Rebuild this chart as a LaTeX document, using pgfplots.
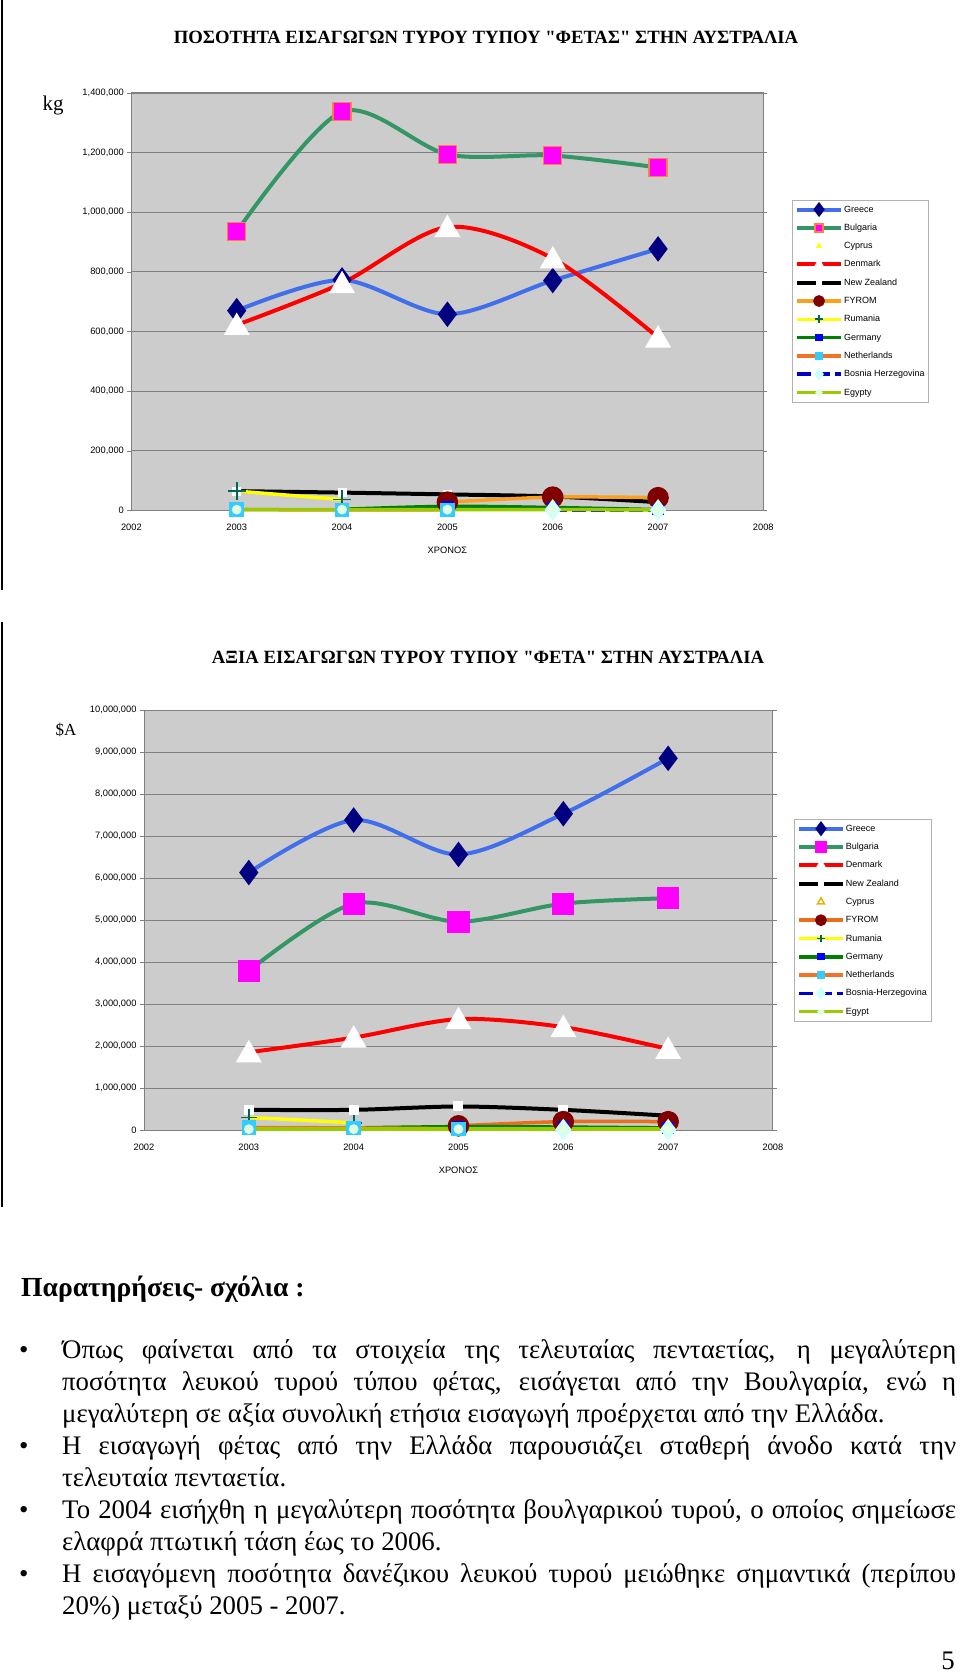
\documentclass[border=0pt]{standalone}
\usepackage{pgfplots}
\pgfplotsset{compat=1.18}
\usepackage{fontspec}
\setmainfont{Liberation Serif}
\newfontfamily\tnr{Liberation Serif}
\newfontfamily\arial{Liberation Sans}
\definecolor{plotgray}{RGB}{204,204,204}
\definecolor{gridgray}{RGB}{128,128,128}
\definecolor{grline}{RGB}{65,110,235}
\definecolor{grmark}{RGB}{0,0,128}
\definecolor{bgline}{RGB}{51,150,100}
\definecolor{bgmark}{RGB}{255,0,255}
\definecolor{bgedge}{RGB}{255,128,64}
\definecolor{dkline}{RGB}{255,0,0}
\definecolor{fyline}{RGB}{250,160,30}
\definecolor{fylinetwo}{RGB}{235,110,30}
\definecolor{fymark}{RGB}{128,0,0}
\definecolor{ruline}{RGB}{255,255,0}
\definecolor{rumark}{RGB}{0,102,90}
\definecolor{deline}{RGB}{0,128,0}
\definecolor{demark}{RGB}{0,0,255}
\definecolor{nlline}{RGB}{240,115,40}
\definecolor{nlmark}{RGB}{51,204,255}
\definecolor{bhline}{RGB}{0,0,204}
\definecolor{bhmark}{RGB}{204,255,255}
\definecolor{egline}{RGB}{153,204,0}
\definecolor{egmark}{RGB}{225,255,225}
\definecolor{cyfill}{RGB}{255,255,0}
\definecolor{cyedge}{RGB}{230,180,0}
\pgfplotsset{
  feta/.style={
    scale only axis,
    axis background/.style={fill=plotgray},
    xmin=2002, xmax=2008, xtick={2002,...,2008},
    xticklabel style={/pgf/number format/1000 sep=, yshift=-6pt},
    ymajorgrids, grid style={gridgray, line width=0.8pt},
    tick align=outside, major tick length=4pt,
    xtick style={draw=none},
    ytick style={gridgray},
    axis line style={gridgray, line width=1pt},
    tick label style={font=\arial\fontsize{9.3}{10}\selectfont},
    /pgf/number format/assume math mode=true,
    scaled ticks=false,
    yticklabel style={/pgf/number format/.cd, fixed, 1000 sep={,}},
    xlabel style={font=\arial\fontsize{9.3}{10}\selectfont, yshift=-10pt},
    clip=false,
    legend cell align=left,
    legend style={draw=gray!60, fill=white, font=\arial\fontsize{9}{10}\selectfont,
      anchor=north west, row sep=7.7pt, inner xsep=3pt, inner ysep=4pt,
      nodes={inner sep=1pt, text height=6.8pt, text depth=1.8pt},
      /tikz/every even column/.append style={column sep=0pt}},
    legend image code/.code={\draw[mark repeat=2,mark phase=2,#1] plot coordinates {(0pt,0pt) (22pt,0pt) (44pt,0pt)};},
    legend image post style={every mark/.append style={scale=0.45}},
    every axis plot/.append style={smooth, tension=0.5},
  }
}
\begin{document}
\begin{tikzpicture}
\useasboundingbox (0,0) rectangle (960pt,-1674pt);
\draw[line width=1.5pt] (2pt,0pt) -- (2pt,-590pt);
\draw[line width=1.5pt] (2pt,-622pt) -- (2pt,-1207pt);
\node[font=\tnr\bfseries\fontsize{18.7}{20}\selectfont] at (486pt,-37pt) {ΠΟΣΟΤΗΤΑ ΕΙΣΑΓΩΓΩΝ ΤΥΡΟΥ ΤΥΠΟΥ "ΦΕΤΑΣ" ΣΤΗΝ ΑΥΣΤΡΑΛΙΑ};
\node[font=\fontsize{21}{24}\selectfont] at (53pt,-105pt) {kg};
\begin{axis}[feta, at={(131.4pt,-510.5pt)}, anchor=south west,
  width=632pt, height=417.6pt,
  ymin=0, ymax=1400000, ytick={0,200000,...,1400000},
  xlabel={ΧΡΟΝΟΣ},
  legend style={at={(1.045,0.7435)}}]
\addplot[grline, line width=4pt, mark=diamond*, mark size=9.5pt, mark options={fill=grmark, draw=grmark}]
  coordinates {(2003,670000) (2004,773000) (2005,658000) (2006,771000) (2007,877000)};
\addlegendentry{Greece}
\addplot[bgline, line width=4pt, mark=square*, mark size=9pt, mark options={fill=bgmark, draw=bgedge, line width=1.5pt}]
  coordinates {(2003,935000) (2004,1337000) (2005,1194000) (2006,1190000) (2007,1150000)};
\addlegendentry{Bulgaria}
\addplot[only marks, mark=triangle*, mark size=7pt, mark options={fill=cyfill, draw=cyfill}]
  coordinates {(2003,4000)};
\addlegendentry{Cyprus}
\addplot[dkline, line width=4pt, mark=triangle*, mark size=11pt, mark options={fill=white, draw=white, yshift=-2.5pt}]
  coordinates {(2003,622000) (2004,762000) (2005,950000) (2006,845000) (2007,580000)};
\addlegendentry{Denmark}
\addplot[black, line width=4pt, mark=square*, mark size=2.5pt, mark options={fill=white, draw=white}]
  coordinates {(2003,65000) (2004,60000) (2005,54000) (2006,47000) (2007,28000)};
\addlegendentry{New Zealand}
\addplot[fyline, line width=3.5pt, mark=*, mark size=9pt, mark options={fill=fymark, draw=fymark}]
  coordinates {(2005,28000) (2006,45000) (2007,43000)};
\addlegendentry{FYROM}
\addplot[ruline, line width=3.5pt, mark=+, mark size=9pt, mark options={draw=rumark, line width=1.8pt}]
  coordinates {(2003,65000) (2004,37000)};
\addlegendentry{Rumania}
\addplot[deline, line width=3.5pt, mark=square*, mark size=4pt, mark options={fill=demark, draw=demark}]
  coordinates {(2004,4000) (2005,14000) (2006,10000) (2007,3000)};
\addlegendentry{Germany}
\addplot[nlline, line width=3.5pt, mark=square*, mark size=5.5pt, mark options={fill=nlmark, draw=nlmark}]
  coordinates {(2003,3000) (2004,2000) (2005,2000)};
\addlegendentry{Netherlands}
\addplot[bhline, line width=3.5pt, dash pattern=on 14pt off 5pt, mark=diamond*, mark size=8pt, mark options={fill=bhmark, draw=bhmark, solid}]
  coordinates {(2006,2000) (2007,2000)};
\addlegendentry{Bosnia Herzegovina}
\addplot[egline, line width=3.5pt, mark=*, mark size=3pt, mark options={fill=egmark, draw=egmark}]
  coordinates {(2003,3000) (2004,3000) (2005,3000) (2006,3000) (2007,2000)};
\addlegendentry{Egypty}
\end{axis}
\node[font=\tnr\bfseries\fontsize{18.7}{20}\selectfont] at (488pt,-657pt) {ΑΞΙΑ ΕΙΣΑΓΩΓΩΝ ΤΥΡΟΥ ΤΥΠΟΥ "ΦΕΤΑ" ΣΤΗΝ ΑΥΣΤΡΑΛΙΑ};
\node[font=\fontsize{17}{20}\selectfont] at (66pt,-730pt) {\$A};
\begin{axis}[feta, at={(144pt,-1130pt)}, anchor=south west,
  width=629pt, height=420pt,
  ymin=0, ymax=10000000, ytick={0,1000000,...,10000000},
  xlabel={ΧΡΟΝΟΣ},
  legend style={at={(1.033,0.740)}}]
\addplot[grline, line width=4pt, mark=diamond*, mark size=9.5pt, mark options={fill=grmark, draw=grmark}]
  coordinates {(2003,6130000) (2004,7380000) (2005,6560000) (2006,7530000) (2007,8850000)};
\addlegendentry{Greece}
\addplot[bgline, line width=4pt, mark=square*, mark size=9pt, mark options={fill=bgmark, draw=bgmark}]
  coordinates {(2003,3790000) (2004,5390000) (2005,4960000) (2006,5390000) (2007,5520000)};
\addlegendentry{Bulgaria}
\addplot[dkline, line width=4pt, mark=triangle*, mark size=11pt, mark options={fill=white, draw=white, yshift=-2.5pt}]
  coordinates {(2003,1850000) (2004,2200000) (2005,2640000) (2006,2450000) (2007,1930000)};
\addlegendentry{Denmark}
\addplot[black, line width=4pt, mark=square*, mark size=3pt, mark options={fill=white, draw=white}]
  coordinates {(2003,480000) (2004,480000) (2005,560000) (2006,480000) (2007,340000)};
\addlegendentry{New Zealand}
\addlegendimage{only marks, mark=triangle, mark size=9pt, mark options={draw=cyedge, line width=1.5pt}}
\addlegendentry{Cyprus}
\addplot[fylinetwo, line width=3.5pt, mark=*, mark size=9pt, mark options={fill=fymark, draw=fymark}]
  coordinates {(2005,100000) (2006,200000) (2007,200000)};
\addlegendentry{FYROM}
\addplot[ruline, line width=3.5pt, mark=+, mark size=8pt, mark options={draw=rumark, line width=1.8pt}]
  coordinates {(2003,300000) (2004,170000)};
\addlegendentry{Rumania}
\addplot[deline, line width=3.5pt, mark=square*, mark size=4pt, mark options={fill=demark, draw=demark}]
  coordinates {(2004,50000) (2005,80000) (2006,70000) (2007,50000)};
\addlegendentry{Germany}
\addplot[nlline, line width=3.5pt, mark=square*, mark size=5.5pt, mark options={fill=nlmark, draw=nlmark}]
  coordinates {(2003,60000) (2004,50000) (2005,30000)};
\addlegendentry{Netherlands}
\addplot[bhline, line width=3.5pt, dash pattern=on 14pt off 5pt, mark=diamond*, mark size=8pt, mark options={fill=bhmark, draw=bhmark, solid}]
  coordinates {(2006,10000) (2007,10000)};
\addlegendentry{Bosnia-Herzegovina}
\addplot[egline, line width=3.5pt, mark=*, mark size=3pt, mark options={fill=egmark, draw=egmark}]
  coordinates {(2003,20000) (2004,20000) (2005,20000) (2006,20000) (2007,20000)};
\addlegendentry{Egypt}
\end{axis}
\node[anchor=base west, inner sep=0, font=\bfseries\fontsize{27.6}{32}\selectfont] at (21pt,-1296pt) {Παρατηρήσεις- σχόλια :};
\begin{scope}[every node/.style={anchor=base west, inner sep=0, font=\fontsize{26.8}{32}\selectfont}]
\node at (19pt,-1358pt) {•};
\node at (62pt,-1358pt) {\makebox[894pt][s]{Όπως φαίνεται από τα στοιχεία της τελευταίας πενταετίας, η μεγαλύτερη}};
\node at (62pt,-1390pt) {\makebox[894pt][s]{ποσότητα λευκού τυρού τύπου φέτας, εισάγεται από την Βουλγαρία, ενώ η}};
\node at (62pt,-1422pt) {μεγαλύτερη σε αξία συνολική ετήσια εισαγωγή προέρχεται από την Ελλάδα.};
\node at (19pt,-1454pt) {•};
\node at (62pt,-1454pt) {\makebox[894pt][s]{Η εισαγωγή φέτας από την Ελλάδα παρουσιάζει σταθερή άνοδο κατά την}};
\node at (62pt,-1486pt) {τελευταία πενταετία.};
\node at (19pt,-1518pt) {•};
\node at (62pt,-1518pt) {\makebox[894pt][s]{Το 2004 εισήχθη η μεγαλύτερη ποσότητα βουλγαρικού τυρού, ο οποίος σημείωσε}};
\node at (62pt,-1550pt) {ελαφρά πτωτική τάση έως το 2006.};
\node at (19pt,-1582pt) {•};
\node at (62pt,-1582pt) {\makebox[894pt][s]{Η εισαγόμενη ποσότητα δανέζικου λευκού τυρού μειώθηκε σημαντικά (περίπου}};
\node at (62pt,-1614pt) {20\%) μεταξύ 2005 - 2007.};
\node[anchor=base] at (948pt,-1669pt) {5};
\end{scope}
\end{tikzpicture}
\end{document}
